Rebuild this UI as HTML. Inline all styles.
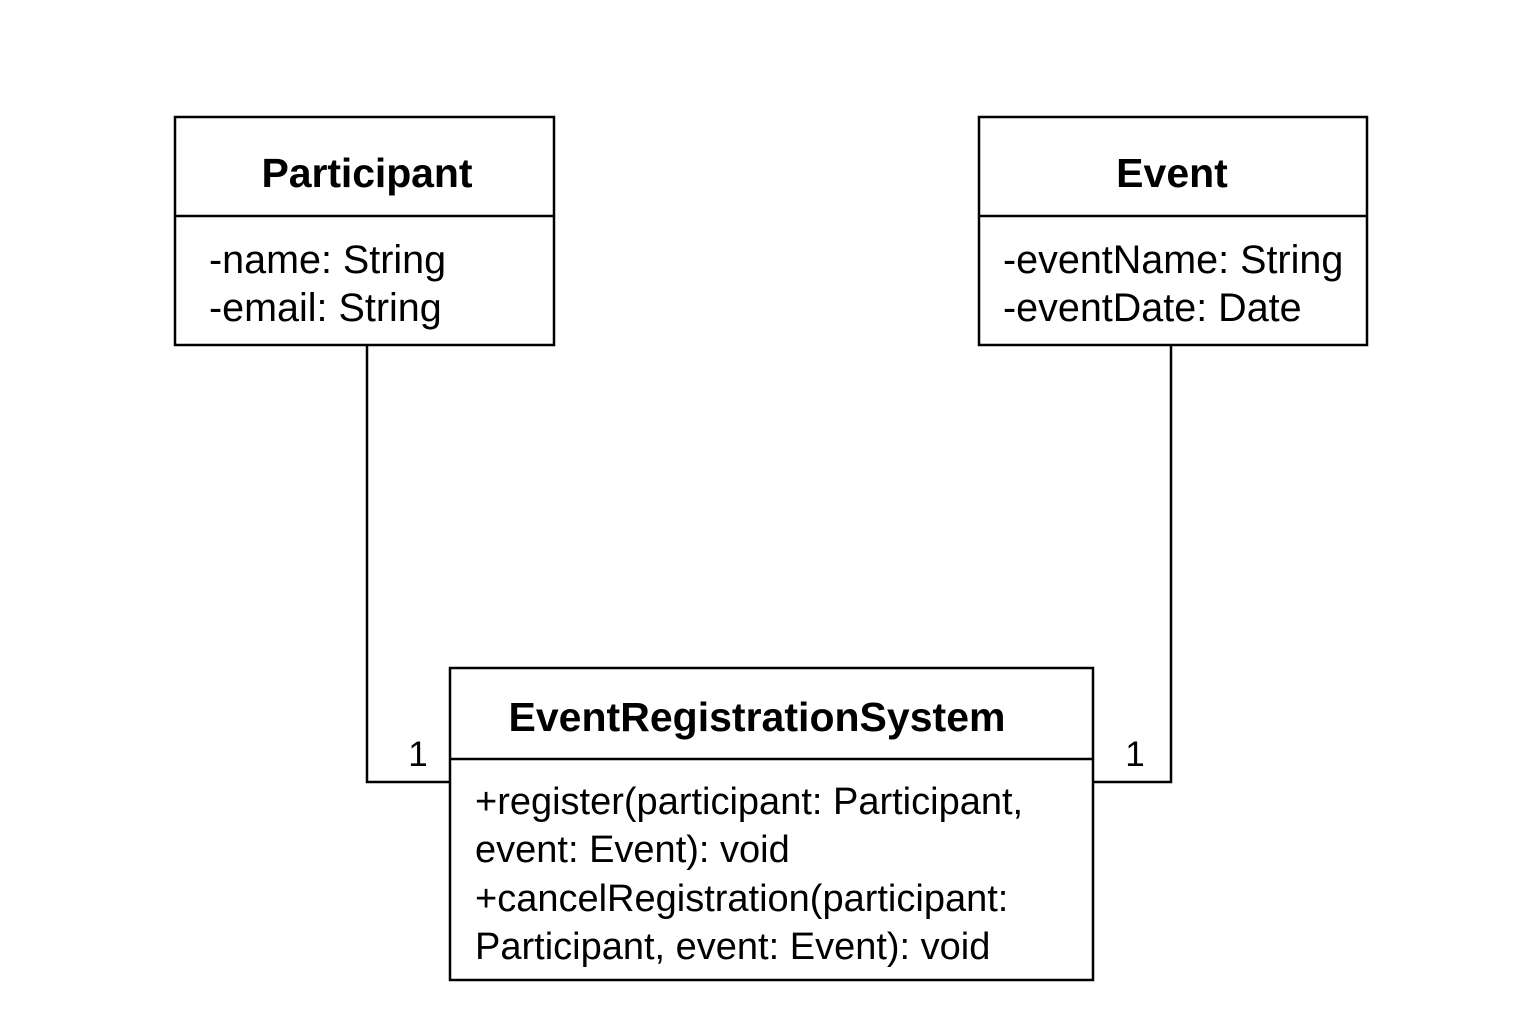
<!DOCTYPE html>
<html><head><meta charset="utf-8"><style>html,body{margin:0;padding:0;background:#fff}</style></head>
<body>
<svg width="1536" height="1024" xmlns="http://www.w3.org/2000/svg" font-family="Liberation Sans, Arial, sans-serif">
<rect width="1536" height="1024" fill="#fff"/>
<g fill="none" stroke="#000" stroke-width="2.5">
<rect x="175" y="117" width="379" height="228"/>
<line x1="175" y1="216" x2="554" y2="216"/>
<rect x="979" y="117" width="388" height="228"/>
<line x1="979" y1="216" x2="1367" y2="216"/>
<rect x="450" y="668" width="643" height="312"/>
<line x1="450" y1="759" x2="1093" y2="759"/>
<polyline points="367,345 367,782 450,782"/>
<polyline points="1171,345 1171,782 1093,782"/>
</g>
<g fill="#000">
<text x="367" y="187" font-size="41" font-weight="bold" text-anchor="middle" textLength="211">Participant</text>
<text x="1172" y="187" font-size="41" font-weight="bold" text-anchor="middle">Event</text>
<text x="757" y="731" font-size="41" font-weight="bold" text-anchor="middle" textLength="497">EventRegistrationSystem</text>
<text x="209" y="273" font-size="39.5">-name: String</text>
<text x="209" y="321" font-size="39.5">-email: String</text>
<text x="1003" y="273" font-size="39.5">-eventName: String</text>
<text x="1003" y="321" font-size="39.5">-eventDate: Date</text>
<text x="475" y="814" font-size="38">+register(participant: Participant,</text>
<text x="475" y="862" font-size="38">event: Event): void</text>
<text x="475" y="911" font-size="38">+cancelRegistration(participant:</text>
<text x="475" y="959" font-size="38">Participant, event: Event): void</text>
<text x="418" y="766" font-size="35" text-anchor="middle">1</text>
<text x="1135" y="766" font-size="35" text-anchor="middle">1</text>
</g>
</svg>
</body></html>
